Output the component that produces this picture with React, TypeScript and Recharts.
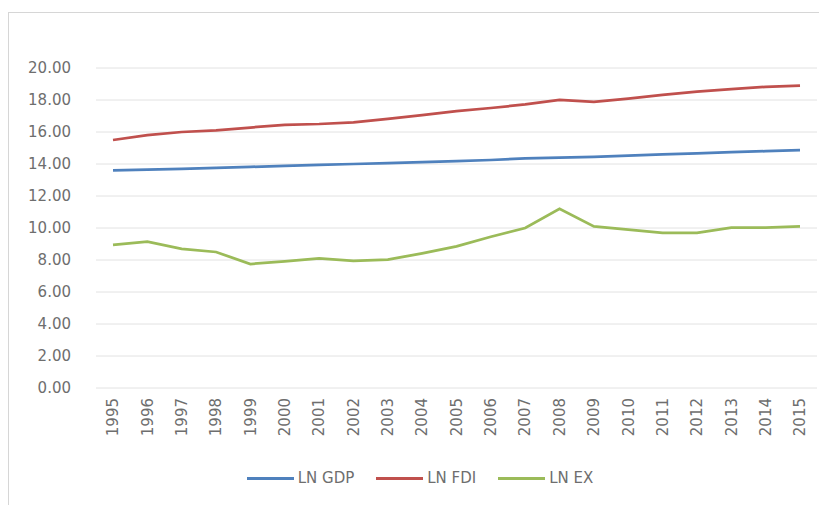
import { LineChart, Line, XAxis, YAxis, CartesianGrid, Legend } from 'recharts';

const years = [
  '1995', '1996', '1997', '1998', '1999', '2000', '2001', '2002', '2003', '2004', '2005',
  '2006', '2007', '2008', '2009', '2010', '2011', '2012', '2013', '2014', '2015',
];
const lnGdp = [
  13.6, 13.65, 13.7, 13.76, 13.82, 13.88, 13.94, 14.0, 14.06, 14.12, 14.18,
  14.25, 14.35, 14.4, 14.45, 14.52, 14.6, 14.67, 14.74, 14.8, 14.86,
];
const lnFdi = [
  15.5, 15.8, 16.0, 16.1, 16.28, 16.45, 16.5, 16.6, 16.82, 17.05, 17.3,
  17.5, 17.72, 18.0, 17.88, 18.08, 18.32, 18.52, 18.68, 18.82, 18.9,
];
const lnEx = [
  8.95, 9.15, 8.7, 8.5, 7.75, 7.92, 8.1, 7.95, 8.02, 8.42, 8.85,
  9.45, 10.0, 11.2, 10.1, 9.9, 9.7, 9.7, 10.02, 10.02, 10.1,
];
const yTicks = [0, 2, 4, 6, 8, 10, 12, 14, 16, 18, 20];

const series = [
  { key: 'gdp', name: 'LN GDP', color: '#4F81BD' },
  { key: 'fdi', name: 'LN FDI', color: '#C0504D' },
  { key: 'ex', name: 'LN EX', color: '#9BBB59' },
];

const data = years.map((year, i) => ({ year, gdp: lnGdp[i], fdi: lnFdi[i], ex: lnEx[i] }));

const FONT = '"DejaVu Sans", sans-serif';
const TEXT = '#6e6e6e';

function YearTick({ x, y, payload }: any) {
  return (
    <text
      transform={`translate(${x},${y + 2}) rotate(-90)`}
      textAnchor="end"
      dy="0.35em"
      fontSize={15}
      fontFamily={FONT}
      fill={TEXT}
    >
      {payload.value}
    </text>
  );
}

function LegendContent() {
  return (
    <div
      style={{
        display: 'flex',
        justifyContent: 'center',
        alignItems: 'center',
        height: 20,
        paddingLeft: 36,
        fontFamily: FONT,
        fontSize: 15,
        color: TEXT,
      }}
    >
      {series.map((s) => (
        <div key={s.key} style={{ display: 'flex', alignItems: 'center', marginRight: 22 }}>
          <span style={{ display: 'inline-block', width: 47, height: 3, background: s.color, marginRight: 4 }} />
          <span>{s.name}</span>
        </div>
      ))}
    </div>
  );
}

export default function App() {
  return (
    <div
      style={{
        marginTop: 4,
        width: 819,
        height: 493,
        borderTop: '1px solid #d6d6d6',
        borderLeft: '1px solid #d6d6d6',
        background: '#fff',
      }}
    >
      <LineChart width={818} height={492} data={data} margin={{ top: 55, right: 10, bottom: 17, left: 0 }}>
        <CartesianGrid vertical={false} stroke="#e2e2e2" strokeWidth={1} />
        <XAxis
          dataKey="year"
          axisLine={false}
          tickLine={false}
          interval={0}
          height={80}
          padding={{ left: 17, right: 17 }}
          tick={<YearTick />}
        />
        <YAxis
          domain={[0, 20]}
          ticks={yTicks}
          width={87}
          axisLine={false}
          tickLine={false}
          tickMargin={19}
          tickFormatter={(v: number) => v.toFixed(2)}
          tick={{ fontSize: 15, fontFamily: FONT, fill: TEXT }}
        />
        <Legend verticalAlign="bottom" content={<LegendContent />} />
        {series.map((s) => (
          <Line
            key={s.key}
            type="linear"
            dataKey={s.key}
            name={s.name}
            stroke={s.color}
            strokeWidth={2.75}
            dot={false}
            isAnimationActive={false}
          />
        ))}
      </LineChart>
    </div>
  );
}
